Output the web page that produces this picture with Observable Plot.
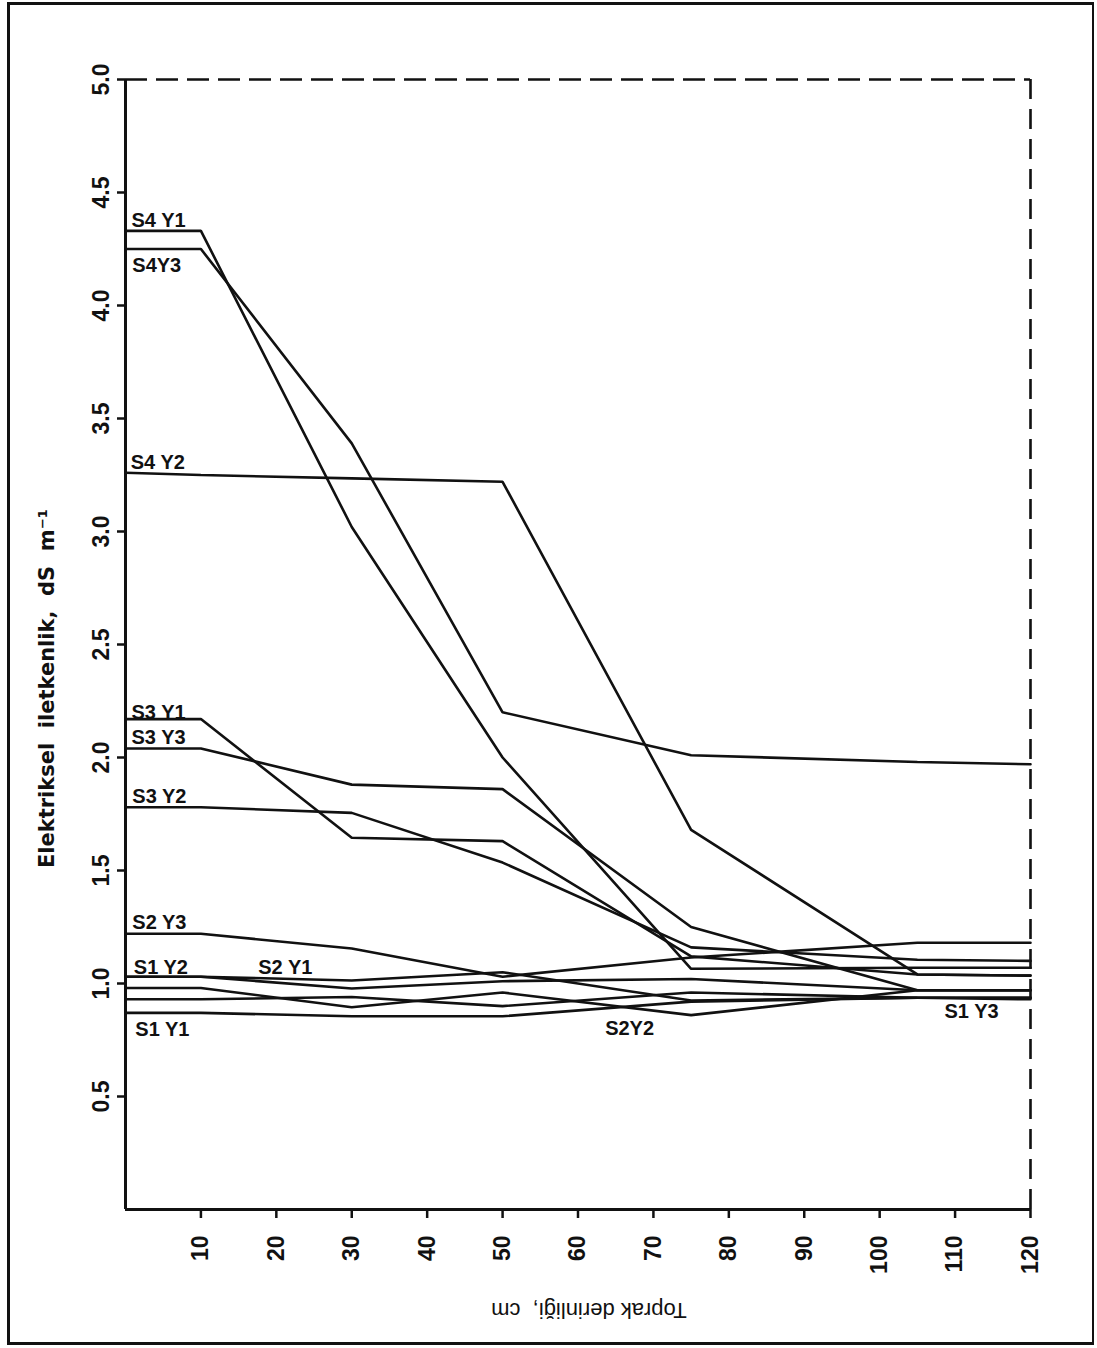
<!DOCTYPE html>
<html>
<head>
<meta charset="utf-8">
<script src="https://cdn.jsdelivr.net/npm/d3@7"></script>
<script src="https://cdn.jsdelivr.net/npm/@observablehq/plot@0.6"></script>
<style>
  html, body { margin: 0; padding: 0; background: #fff; }
  #wrap { position: relative; width: 1097px; height: 1348px; overflow: hidden; }
  #border { position: absolute; left: 7px; top: 2px; width: 1082px; height: 1337px; border: 3px solid #111; border-right-width: 2px; pointer-events: none; }
</style>
</head>
<body>
<div id="wrap"><div id="border"></div></div>
<script>
// Depths (cm) at which each series is drawn
const depths = [0, 10, 30, 50, 75, 105, 120];

// Electrical conductivity (dS m-1) per series
const s4y1 = [4.33, 4.33, 3.02, 2.00, 1.065, 1.07, 1.07];
const s4y2 = [3.26, 3.25, 3.235, 3.22, 1.68, 1.04, 1.035];
const s4y3 = [4.25, 4.25, 3.39, 2.20, 2.01, 1.98, 1.97];
const s3y1 = [2.17, 2.17, 1.645, 1.63, 1.12, 1.04, 1.035];
const s3y2 = [1.78, 1.78, 1.755, 1.535, 1.16, 1.105, 1.10];
const s3y3 = [2.04, 2.04, 1.88, 1.86, 1.25, 0.97, 0.97];
const s2y3 = [1.22, 1.22, 1.155, 1.03, 1.115, 1.18, 1.18];
const s2y1 = [1.03, 1.03, 1.013, 1.05, 0.925, 0.937, 0.937];
const s1y2 = [1.03, 1.03, 0.978, 1.01, 1.02, 0.97, 0.97];
const s2y2 = [0.98, 0.98, 0.895, 0.96, 0.86, 0.97, 0.97];
const s1y3 = [0.93, 0.93, 0.94, 0.90, 0.96, 0.937, 0.93];
const s1y1 = [0.87, 0.87, 0.855, 0.855, 0.92, 0.937, 0.937];

const seriesNames = ["S4Y1","S4Y2","S4Y3","S3Y1","S3Y2","S3Y3","S2Y3","S2Y1","S1Y2","S2Y2","S1Y3","S1Y1"];
const seriesValues = [s4y1, s4y2, s4y3, s3y1, s3y2, s3y3, s2y3, s2y1, s1y2, s2y2, s1y3, s1y1];

// Curve labels: text, depth and value where the label sits
const labelText  = ["S4 Y1","S4Y3","S4 Y2","S3 Y1","S3 Y3","S3 Y2","S2 Y3","S1 Y2","S2 Y1","S1 Y1","S2Y2","S1 Y3"];
const labelDepth = [0.8, 0.9, 0.7, 0.8, 0.8, 0.9, 0.9, 1.1, 17.6, 1.3, 63.6, 108.6];
const labelValue = [4.376, 4.177, 3.305, 2.199, 2.088, 1.827, 1.27, 1.071, 1.071, 0.796, 0.80, 0.876];

// Axis ticks
const yTicks = [0.5, 1.0, 1.5, 2.0, 2.5, 3.0, 3.5, 4.0, 4.5, 5.0];
const xTicks = [10, 20, 30, 40, 50, 60, 70, 80, 90, 100, 110, 120];

const yTitle = "Elektriksel  iletkenlik,  dS  m⁻¹";
const xTitle = "Toprak derinliği,  cm";

const rows = seriesNames.flatMap((name, i) =>
  depths.map((d, j) => ({series: name, depth: d, ec: seriesValues[i][j]})));
const labels = labelText.map((t, i) => ({text: t, depth: labelDepth[i], ec: labelValue[i]}));

const font = "'Liberation Sans', Arial, sans-serif";

const chart = Plot.plot({
  width: 1097,
  height: 1348,
  marginLeft: 125,
  marginRight: 67,
  marginTop: 79,
  marginBottom: 139,
  style: {fontFamily: font, color: "#111", background: "transparent", overflow: "visible"},
  x: {domain: [0, 120]},
  y: {domain: [0, 5]},
  marks: [
    Plot.axisY(yTicks, {
      tickSize: 8, tickPadding: 9, tickRotate: -90, fontSize: 23, fontWeight: "bold",
      strokeWidth: 2.5, tickFormat: d3.format(".1f"), label: null
    }),
    Plot.axisX(xTicks, {
      tickSize: 9, tickPadding: 17, tickRotate: -90, fontSize: 23, fontWeight: "bold",
      strokeWidth: 2.5, label: null
    }),
    Plot.ruleY([5], {stroke: "#111", strokeWidth: 2.6, strokeDasharray: "22,9"}),
    Plot.ruleX([120], {stroke: "#111", strokeWidth: 2.6, strokeDasharray: "20,10"}),
    Plot.ruleX([0], {stroke: "#111", strokeWidth: 3}),
    Plot.ruleY([0], {stroke: "#111", strokeWidth: 3}),
    Plot.line(rows, {x: "depth", y: "ec", z: "series", stroke: "#111", strokeWidth: 2.6, strokeLinejoin: "miter"}),
    Plot.text(labels, {
      x: "depth", y: "ec", text: "text", textAnchor: "start", lineAnchor: "middle",
      fontSize: 20, fontWeight: "bold", fill: "#111", letterSpacing: 1
    }),
    Plot.text([yTitle], {
      frameAnchor: "left", textAnchor: "middle", lineAnchor: "middle",
      dx: -78, dy: 44, rotate: -90, fontSize: 21, fontWeight: "bold", fill: "#111",
      letterSpacing: 4, fontFamily: "'DejaVu Sans', sans-serif"
    }),
    Plot.text([xTitle], {
      frameAnchor: "bottom", textAnchor: "middle", lineAnchor: "middle",
      dx: 11, dy: 101, rotate: 180, fontSize: 22, fill: "#111", letterSpacing: 3.5
    })
  ]
});

document.getElementById("wrap").prepend(chart);
</script>
</body>
</html>
